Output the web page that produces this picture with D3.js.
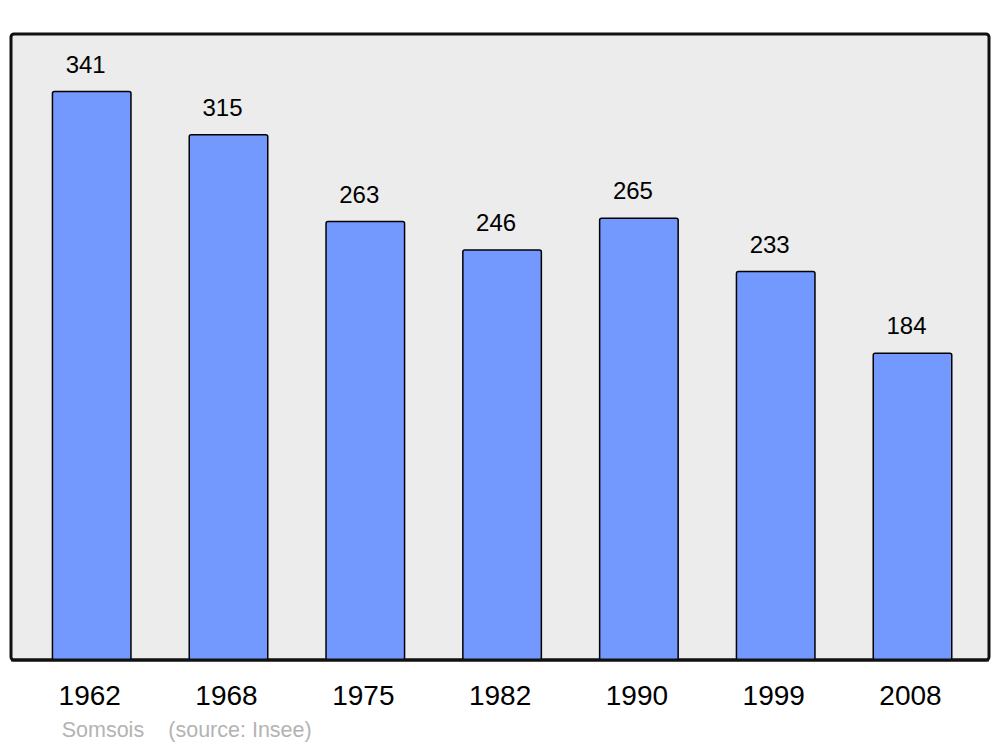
<!DOCTYPE html>
<html>
<head>
  <title>Somsois</title>
  <script type="text/javascript" src="https://d3js.org/d3.v7.min.js"></script>
  <style>
    body { margin: 0; background: #fff; }
  </style>
</head>
<body>
  <div id="container"></div>
  <script type="text/javascript">
    var years = ['1962', '1968', '1975', '1982', '1990', '1999', '2008'];
    var population = [341, 315, 263, 246, 265, 233, 184];
    var place = 'Somsois';
    var source = '(source: Insee)';

    function drawGraph() {
      var width = 1000, height = 747,
        panel = {left: 11, top: 34, right: 989, bottom: 660};

      var svg = d3.select('#container').append('svg')
        .attr('width', width)
        .attr('height', height)
        .style('display', 'block')
        .style('font-family', 'Liberation Sans, Arial, sans-serif');

      svg.append('rect')
        .attr('x', panel.left).attr('y', panel.top)
        .attr('width', panel.right - panel.left)
        .attr('height', panel.bottom - panel.top)
        .attr('rx', 3)
        .attr('fill', '#ececec')
        .attr('stroke', '#111')
        .attr('stroke-width', 3);

      var x = d3.scaleBand()
        .domain(years)
        .range([23.3, 980.9])
        .paddingInner(0.426)
        .paddingOuter(0.213);

      var y = d3.scaleLinear()
        .domain([0, 375.5])
        .range([panel.bottom, panel.top]);

      var data = years.map((yr, i) => ({year: yr, value: population[i]}));

      svg.selectAll('rect.bar').data(data).enter()
        .append('rect')
        .attr('class', 'bar')
        .attr('x', d => x(d.year))
        .attr('y', d => y(d.value))
        .attr('width', x.bandwidth())
        .attr('height', d => panel.bottom - y(d.value))
        .attr('rx', 2)
        .attr('fill', '#7399ff')
        .attr('stroke', '#000')
        .attr('stroke-width', 1.5);

      // redraw bottom border over the bars
      svg.append('line')
        .attr('x1', panel.left).attr('x2', panel.right)
        .attr('y1', panel.bottom).attr('y2', panel.bottom)
        .attr('stroke', '#111').attr('stroke-width', 3);

      svg.selectAll('text.val').data(data).enter()
        .append('text')
        .attr('class', 'val')
        .attr('x', d => x(d.year) + x.bandwidth() / 2 - 6)
        .attr('y', d => y(d.value) - 19)
        .attr('text-anchor', 'middle')
        .attr('font-size', 24)
        .attr('fill', '#000')
        .text(d => d.value);

      var xAxis = d3.axisBottom(x).tickSize(0).tickPadding(0);
      var ax = svg.append('g')
        .attr('transform', `translate(-2,${panel.bottom})`)
        .call(xAxis);
      ax.select('.domain').remove();
      ax.selectAll('text')
        .attr('dy', null)
        .attr('y', 45)
        .attr('font-size', 28)
        .attr('font-family', 'Liberation Sans, Arial, sans-serif')
        .attr('fill', '#000');

      svg.append('text')
        .attr('x', 61.7).attr('y', 737)
        .attr('font-size', 21.5)
        .attr('fill', '#b3b3b3')
        .text(place);
      svg.append('text')
        .attr('x', 168.3).attr('y', 737)
        .attr('font-size', 21.5)
        .attr('fill', '#b3b3b3')
        .text(source);
    }

    drawGraph();
  </script>
</body>
</html>
